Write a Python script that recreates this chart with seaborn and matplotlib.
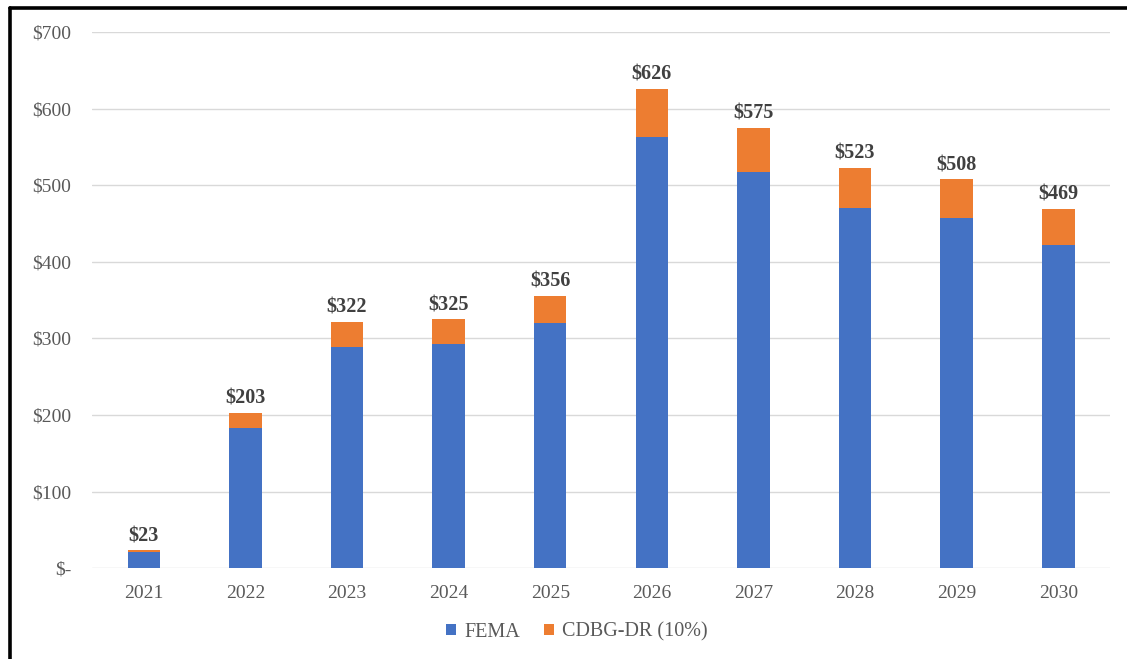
import matplotlib
matplotlib.use("Agg")
import matplotlib.pyplot as plt
import seaborn as sns
import pandas as pd
from matplotlib.patches import Patch
from matplotlib.lines import Line2D
from matplotlib.ticker import FuncFormatter

years = ["2021", "2022", "2023", "2024", "2025", "2026", "2027", "2028", "2029", "2030"]
fema = [21, 183, 289, 293, 320, 563, 518, 470, 457, 422]
cdbg = [2, 20, 33, 32, 36, 63, 57, 53, 51, 47]
series_names = ["FEMA", "CDBG-DR (10%)"]
colors = ["#4472C4", "#ED7D31"]

df = pd.DataFrame({"year": years, "fema": fema, "cdbg": cdbg})
df["total"] = df["fema"] + df["cdbg"]

sns.set_theme(style="white")
plt.rcParams["font.family"] = ["Liberation Serif", "DejaVu Serif"]

fig = plt.figure(figsize=(11.27, 6.59), dpi=100)
ax = fig.add_axes([0.0816, 0.138, 0.9034, 0.813])

sns.barplot(data=df, x="year", y="total", order=years, color=colors[1],
            width=0.32, saturation=1, linewidth=0, ax=ax)
sns.barplot(data=df, x="year", y="fema", order=years, color=colors[0],
            width=0.32, saturation=1, linewidth=0, ax=ax)

ax.set_ylim(0, 700)
ax.set_xlim(-0.51, 9.51)
ax.set_yticks(range(0, 701, 100))
ax.yaxis.set_major_formatter(FuncFormatter(lambda v, p: "$-" if v == 0 else f"${int(v)}"))
ax.grid(axis="y", color="#D9D9D9", linewidth=1)
ax.set_axisbelow(True)
for s in ax.spines.values():
    s.set_visible(False)
ax.tick_params(axis="both", length=0, labelsize=14, labelcolor="#595959")
ax.tick_params(axis="y", pad=15)
ax.tick_params(axis="x", pad=12)
ax.set_xlabel("")
ax.set_ylabel("")

for i, t in enumerate(df["total"]):
    ax.annotate(f"${t}", xy=(i, t), xytext=(0, 3), textcoords="offset points",
                ha="center", va="bottom", fontsize=14.5, fontweight="bold", color="#404040")

handles = [Patch(facecolor=c, edgecolor="none") for c in colors]
fig.legend(handles, series_names, loc="center", bbox_to_anchor=(577 / 1127, 1 - 632 / 659),
           ncol=2, frameon=False, handlelength=0.5, handleheight=0.5, handletextpad=0.4,
           columnspacing=1.2, prop={"size": 14.5}, labelcolor="#595959")

# black frame on top and left
fig.add_artist(Line2D([9.5 / 1127, 1.0], [1 - 7.5 / 659] * 2, color="black", linewidth=2.6,
                      transform=fig.transFigure))
fig.add_artist(Line2D([9.5 / 1127] * 2, [0.0, 1 - 7.5 / 659], color="black", linewidth=2.6,
                      transform=fig.transFigure))

fig.savefig("out.png", dpi=100, facecolor="white")
